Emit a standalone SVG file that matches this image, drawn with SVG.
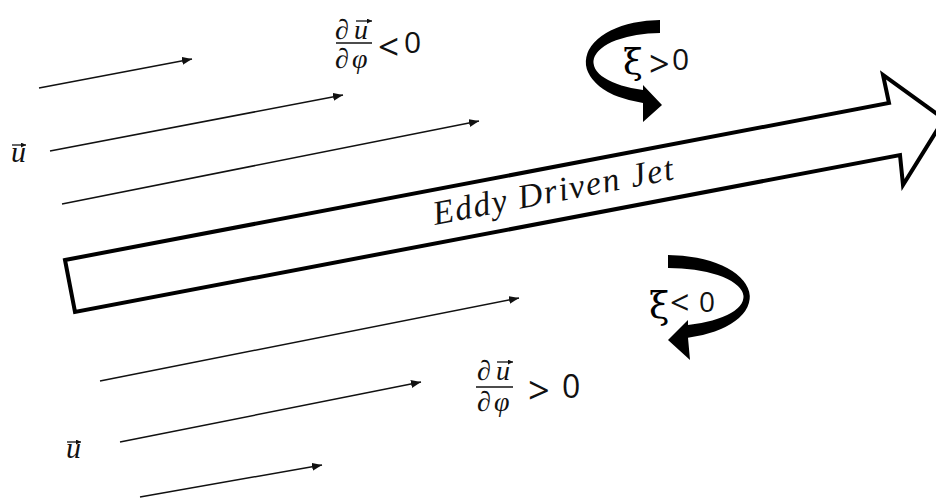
<svg xmlns="http://www.w3.org/2000/svg" width="936" height="501" viewBox="0 0 936 501">
<defs>
<marker id="ah" markerUnits="userSpaceOnUse" markerWidth="12" markerHeight="10" refX="10" refY="4" orient="auto">
<path d="M0,0 L10,4 L0,8 Z" fill="#111"/>
</marker>
<marker id="vh" markerUnits="userSpaceOnUse" markerWidth="6" markerHeight="6" refX="5" refY="2.5" orient="auto">
<path d="M0,0 L5,2.5 L0,5 Z" fill="#111"/>
</marker>
<style>
.flow{stroke:#111;stroke-width:1.5;fill:none;marker-end:url(#ah)}
.vec{stroke:#111;stroke-width:1.3;fill:none;marker-end:url(#vh)}
.math{font-family:"Liberation Serif","DejaVu Serif",serif;font-style:italic;fill:#111}
.sans{font-family:"Open Sans","Liberation Sans",sans-serif;fill:#111}
.xi{font-family:"DejaVu Serif","Liberation Serif",serif;fill:#000}
.bar{stroke:#111;stroke-width:1.5}
</style>
</defs>

<g id="connectors">
<line class="flow" x1="39" y1="88" x2="192" y2="59"/>
<line class="flow" x1="50" y1="151" x2="343" y2="95"/>
<line class="flow" x1="62" y1="204" x2="479" y2="121"/>
<line class="flow" x1="100" y1="381" x2="519" y2="298"/>
<line class="flow" x1="120" y1="442" x2="421" y2="382"/>
<line class="flow" x1="140" y1="497" x2="322" y2="465"/>
</g>

<g id="jet">
<polygon points="65,260 889,103 883,75 944,119 903,185 900,155 75,312" fill="#fff" stroke="#000" stroke-width="4" stroke-linejoin="miter"/>
<text class="math" font-size="34" transform="translate(435,225) rotate(-10.8)" x="0" y="0" textLength="244" lengthAdjust="spacing">Eddy Driven Jet</text>
</g>

<g id="vort-pos">
<path d="M660,20 A74,42 0 0 0 643,102.9 L643,122 L662,105 L643,85 L643,90 A67,29 0 0 1 660,33 Z" fill="#000"/>
<text class="xi" font-size="36" x="623" y="74">ξ</text>
<text class="sans" font-size="30"><tspan x="649" y="77" font-size="36">&gt;</tspan><tspan x="672" y="70">0</tspan></text>
</g>

<g id="vort-neg">
<path d="M668,255 A82,42 0 0 1 688,337.7 L690,360 L668,340 L688,320 L688,325 A75,29 0 0 0 668,268 Z" fill="#000"/>
<text class="xi" font-size="37" x="649" y="318">ξ</text>
<text class="sans" font-size="28"><tspan x="670" y="315" font-size="34">&lt;</tspan><tspan x="699" y="312">0</tspan></text>
</g>

<g id="grad-neg">
<text class="math" font-size="28"><tspan x="335" y="39">∂</tspan><tspan x="354" y="39">u</tspan></text>
<line class="vec" x1="356" y1="21" x2="372" y2="21"/>
<line class="bar" x1="336" y1="43" x2="372" y2="43"/>
<text class="math" font-size="28"><tspan x="335" y="68">∂</tspan><tspan x="352" y="68">φ</tspan></text>
<text class="sans" font-size="30"><tspan x="378" y="60" font-size="37">&lt;</tspan><tspan x="404" y="53">0</tspan></text>
</g>

<g id="grad-pos">
<text class="math" font-size="28"><tspan x="477" y="380">∂</tspan><tspan x="496" y="380">u</tspan></text>
<line class="vec" x1="497" y1="362" x2="513" y2="362"/>
<line class="bar" x1="476" y1="387" x2="513" y2="387"/>
<text class="math" font-size="28"><tspan x="477" y="411">∂</tspan><tspan x="494" y="411">φ</tspan></text>
<text class="sans" font-size="32"><tspan x="528" y="404" font-size="38">&gt;</tspan><tspan x="562" y="398">0</tspan></text>
</g>

<g id="u-top">
<text class="math" font-size="30" x="11" y="162">u</text>
<line class="vec" x1="12" y1="145" x2="26" y2="145"/>
</g>

<g id="u-bottom">
<text class="math" font-size="30" x="66" y="458">u</text>
<line class="vec" x1="67" y1="442" x2="81" y2="442"/>
</g>
</svg>
